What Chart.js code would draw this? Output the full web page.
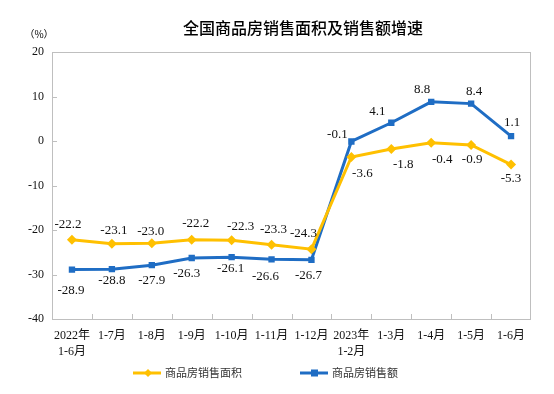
<!DOCTYPE html>
<html>
<head>
<meta charset="utf-8">
<script src="https://cdn.jsdelivr.net/npm/chart.js@4"></script>
<style>
  html, body { margin: 0; padding: 0; background: #fff; }
  #box { width: 554px; height: 394px; }
</style>
</head>
<body>
<div id="box"><canvas id="zengsu"></canvas></div>
<script>
// 横軸のラベル（2行になるものは配列）
const months = [["2022年", "1-6月"], "1-7月", "1-8月", "1-9月", "1-10月", "1-11月", "1-12月",
  ["2023年", "1-2月"], "1-3月", "1-4月", "1-5月", "1-6月"];
// 商品房销售面积 増速
const mianji = [-22.2, -23.1, -23.0, -22.2, -22.3, -23.3, -24.3, -3.6, -1.8, -0.4, -0.9, -5.3];
// 商品房销售额 増速
const xiaoshoue = [-28.9, -28.8, -27.9, -26.3, -26.1, -26.6, -26.7, -0.1, 4.1, 8.8, 8.4, 1.1];
const yTicks = [20, 10, 0, -10, -20, -30, -40];

const yellow = '#FFC000';
const blue = '#1F6DC4';
const serif = "'Liberation Serif', 'Noto Sans CJK SC', serif";
const cjk = "'Noto Sans CJK SC', sans-serif";

// 数値ラベルのずらし量 [dx, dy]
const offYellow = [[-4, -15], [2, -13], [-1, -12], [4, -16], [9, -14], [2, -15], [-8, -16],
  [11, 17], [12, 16], [11, 17], [1, 15], [0, 14]];
const offBlue = [[-1, 21], [0, 11], [0, 15], [-5, 16], [-1, 11], [-6, 17], [-3, 16],
  [-14, -7], [-14, -11], [-9, -12], [3, -12], [1, -14]];

// 枠・目盛り・数値・タイトル・凡例を描くプラグイン
const extras = {
  id: 'extras',
  afterDraw(chart) {
    const ctx = chart.ctx;
    const a = chart.chartArea;
    const ys = chart.scales.y;
    ctx.save();
    ctx.strokeStyle = '#BFBFBF';
    ctx.lineWidth = 1;
    ctx.strokeRect(Math.round(a.left) + 0.5, Math.round(a.top) + 0.5,
      Math.round(a.right - a.left) - 1, Math.round(a.bottom - a.top));
    ctx.beginPath();
    yTicks.forEach(v => {
      const py = Math.round(ys.getPixelForValue(v)) + 0.5;
      ctx.moveTo(a.left, py); ctx.lineTo(a.left + 5, py);
    });
    const w = (a.right - a.left) / months.length;
    for (let i = 1; i < months.length; i++) {
      const px = Math.round(a.left + i * w) + 0.5;
      ctx.moveTo(px, a.bottom); ctx.lineTo(px, a.bottom - 5);
    }
    ctx.stroke();

    // 数値ラベル
    ctx.font = '13px ' + serif;
    ctx.fillStyle = '#111';
    ctx.textAlign = 'center';
    ctx.textBaseline = 'middle';
    [[0, mianji, offYellow], [1, xiaoshoue, offBlue]].forEach(([di, vals, off]) => {
      chart.getDatasetMeta(di).data.forEach((pt, i) => {
        ctx.fillText(vals[i].toFixed(1), pt.x + off[i][0], pt.y + off[i][1]);
      });
    });

    // タイトル
    ctx.font = '500 16px ' + cjk;
    ctx.fillStyle = '#000';
    ctx.fillText('全国商品房销售面积及销售额增速', 303, 28);
    ctx.font = '10px ' + cjk;
    ctx.fillText('（%）', 39, 34);

    // 凡例
    const items = [
      { x: 133, color: yellow, style: 'rectRot', text: '商品房销售面积' },
      { x: 300, color: blue, style: 'rect', text: '商品房销售额' }
    ];
    const ly = 373;
    ctx.font = '11px ' + cjk;
    ctx.textAlign = 'left';
    items.forEach(it => {
      ctx.strokeStyle = it.color;
      ctx.lineWidth = 3;
      ctx.beginPath();
      ctx.moveTo(it.x, ly); ctx.lineTo(it.x + 28, ly);
      ctx.stroke();
      ctx.fillStyle = it.color;
      if (it.style === 'rect') {
        ctx.fillRect(it.x + 11, ly - 3.5, 7, 7);
      } else {
        ctx.beginPath();
        ctx.moveTo(it.x + 15, ly - 4); ctx.lineTo(it.x + 19, ly);
        ctx.lineTo(it.x + 15, ly + 4); ctx.lineTo(it.x + 11, ly);
        ctx.closePath(); ctx.fill();
      }
      ctx.fillStyle = '#333';
      ctx.fillText(it.text, it.x + 32, ly);
    });
    ctx.restore();
  }
};

let context = document.querySelector('#zengsu').getContext('2d');
new Chart(context, {
  type: 'line',
  data: {
    labels: months,
    datasets: [{
      label: '商品房销售面积',
      data: mianji,
      borderColor: yellow,
      backgroundColor: yellow,
      borderWidth: 3,
      pointStyle: 'rectRot',
      pointRadius: 5,
      pointBorderWidth: 0,
      tension: 0
    }, {
      label: '商品房销售额',
      data: xiaoshoue,
      borderColor: blue,
      backgroundColor: blue,
      borderWidth: 3,
      pointStyle: 'rect',
      pointRadius: 4.5,
      pointBorderWidth: 0,
      tension: 0
    }]
  },
  options: {
    responsive: true,
    maintainAspectRatio: false,
    animation: false,
    layout: { padding: { top: 52, right: 23, bottom: 0, left: 0 } },
    plugins: {
      legend: { display: false },
      title: { display: false },
      tooltip: { enabled: false }
    },
    scales: {
      x: {
        offset: true,
        afterFit: s => { s.height = 75; },
        grid: { display: false },
        border: { display: false },
        ticks: {
          padding: 1,
          color: '#111',
          maxRotation: 0,
          autoSkip: false,
          font: { family: serif, size: 12, lineHeight: 1.35 }
        }
      },
      y: {
        min: -40,
        max: 20,
        afterFit: s => { s.width = 52; },
        grid: { display: false },
        border: { display: false },
        ticks: {
          stepSize: 10,
          padding: 0,
          color: '#111',
          font: { family: serif, size: 12 }
        }
      }
    }
  },
  plugins: [extras]
});
</script>
</body>
</html>
